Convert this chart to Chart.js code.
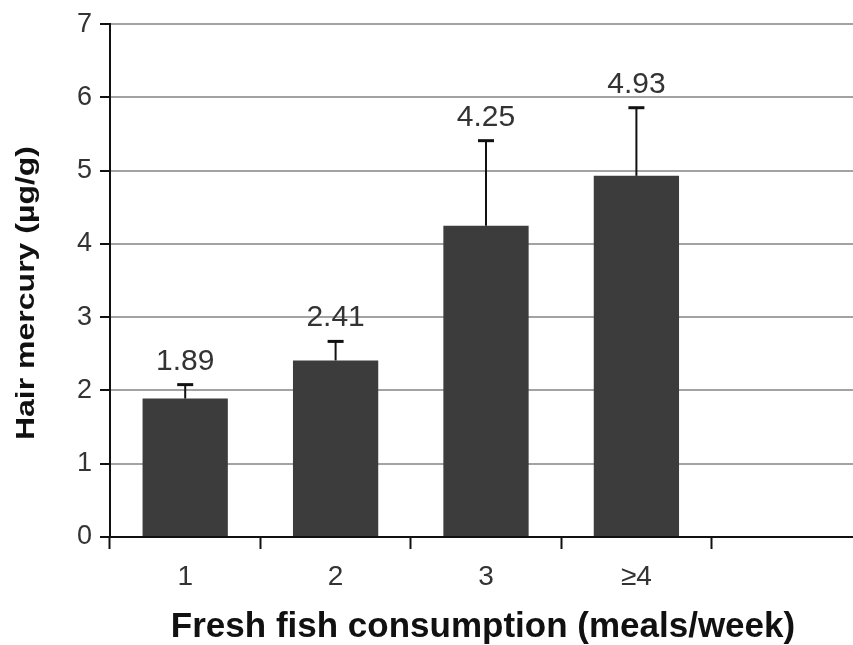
<!DOCTYPE html>
<html>
<head>
<meta charset="utf-8">
<script src="https://cdn.jsdelivr.net/npm/chart.js@4.4.1/dist/chart.umd.min.js"></script>
<style>
  html, body { margin: 0; padding: 0; background: #fff; overflow: hidden; }
  #wrap { width: 870px; height: 645px; }
</style>
</head>
<body>
<div id="wrap"><canvas id="c" width="870" height="645"></canvas></div>
<script>
// Fresh fish consumption groups (last slot intentionally empty)
const categories = ['1', '2', '3', '\u22654', ''];
// Mean hair mercury per group (µg/g)
const meanMercury = [1.89, 2.41, 4.25, 4.93, null];
// Upper error (added on top of the mean)
const upperError = [0.19, 0.26, 1.16, 0.93, null];
const yTicks = [0, 1, 2, 3, 4, 5, 6, 7];
const xTitle = 'Fresh fish consumption (meals/week)';
const yTitle = 'Hair mercury (\u00b5g/g)';

const FONT = "'Liberation Sans', Arial, Helvetica, sans-serif";

// Error whiskers and value labels above each bar
const errorBarPlugin = {
  id: 'errorBars',
  afterDatasetsDraw(chart) {
    const ctx = chart.ctx;
    const meta = chart.getDatasetMeta(0);
    const y = chart.scales.y;
    ctx.save();
    meta.data.forEach((bar, i) => {
      const v = meanMercury[i];
      if (v == null) return;
      const top = y.getPixelForValue(v + upperError[i]);
      const base = y.getPixelForValue(v);
      ctx.strokeStyle = '#111';
      ctx.lineWidth = 2;
      ctx.beginPath();
      ctx.moveTo(bar.x, base);
      ctx.lineTo(bar.x, top);
      ctx.stroke();
      ctx.lineWidth = 3;
      ctx.beginPath();
      ctx.moveTo(bar.x - 8, top);
      ctx.lineTo(bar.x + 8, top);
      ctx.stroke();
      ctx.fillStyle = '#333';
      ctx.font = '30px ' + FONT;
      ctx.textAlign = 'center';
      ctx.textBaseline = 'alphabetic';
      ctx.fillText(v.toFixed(2), bar.x, top - 15);
    });
    ctx.restore();
  }
};

// Axis titles
const axisTitlePlugin = {
  id: 'axisTitles',
  afterDraw(chart) {
    const ctx = chart.ctx;
    ctx.save();
    ctx.fillStyle = '#111';
    ctx.textAlign = 'center';
    ctx.textBaseline = 'alphabetic';
    ctx.font = 'bold 35px ' + FONT;
    ctx.fillText(xTitle, 483, 637);

    ctx.translate(34, 293);
    ctx.rotate(-Math.PI / 2);
    ctx.scale(1, 0.8);
    ctx.font = 'bold 32px ' + FONT;
    ctx.textBaseline = 'alphabetic';
    ctx.fillText(yTitle, 0, 0);
    ctx.restore();
  }
};

new Chart(document.getElementById('c'), {
  type: 'bar',
  data: {
    labels: categories,
    datasets: [{
      data: meanMercury,
      backgroundColor: '#3c3c3c',
      borderWidth: 0,
      categoryPercentage: 1.0,
      barPercentage: 0.567
    }]
  },
  options: {
    responsive: false,
    animation: false,
    devicePixelRatio: 1,
    layout: { padding: { top: 24, right: 8, left: 0, bottom: 0 } },
    plugins: {
      legend: { display: false },
      tooltip: { enabled: false }
    },
    scales: {
      x: {
        grid: {
          offset: true,
          drawOnChartArea: false,
          tickColor: '#111',
          tickLength: 12,
          tickWidth: 2
        },
        border: { color: '#111', width: 2 },
        ticks: {
          color: '#333',
          font: { family: FONT, size: 28 },
          padding: 11,
          maxRotation: 0
        },
        afterFit(scale) { scale.height = 108; }
      },
      y: {
        min: 0,
        max: 7,
        afterBuildTicks(scale) { scale.ticks = yTicks.map(v => ({ value: v })); },
        grid: {
          color: '#a3a3a3',
          lineWidth: 2,
          tickColor: '#111',
          tickLength: 10,
          drawTicks: true
        },
        border: { color: '#111', width: 2 },
        ticks: {
          color: '#333',
          font: { family: FONT, size: 27 },
          padding: 8
        },
        afterFit(scale) { scale.width = 110; }
      }
    }
  },
  plugins: [errorBarPlugin, axisTitlePlugin]
});
</script>
</body>
</html>
